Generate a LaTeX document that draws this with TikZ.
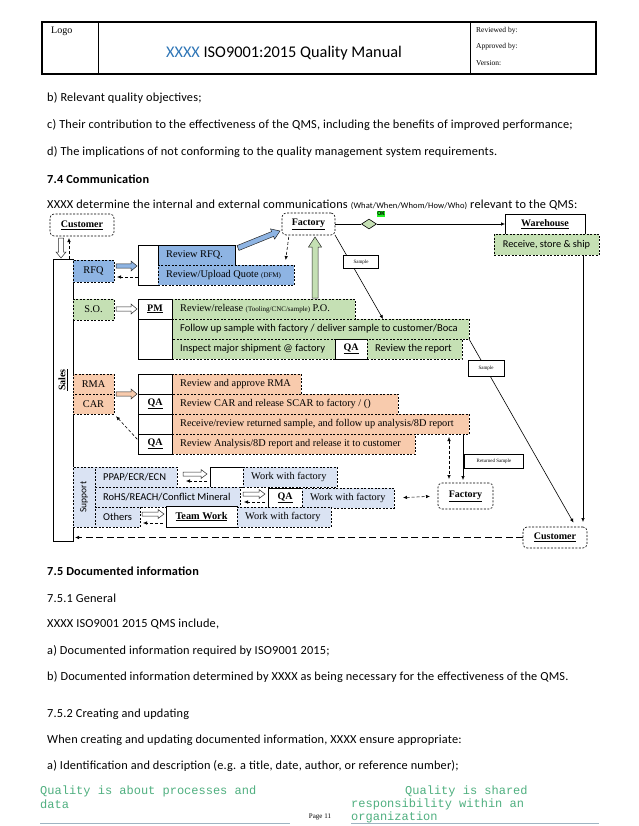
\documentclass[tikz,border=0pt]{standalone}
\usepackage{fontspec}
\setmainfont{Carlito}
\newfontfamily\bodyf[LetterSpace=1.5]{Carlito}
\newfontfamily\tms{Liberation Serif}
\newfontfamily\mono{Liberation Mono}
\usetikzlibrary{shapes.geometric,arrows.meta}
\definecolor{bluef}{HTML}{8EB4E3}
\definecolor{greenf}{HTML}{C5E0B4}
\definecolor{orangef}{HTML}{F8CBAD}
\definecolor{palef}{HTML}{DAE3F3}
\definecolor{xblue}{HTML}{2E75B6}
\definecolor{foot}{HTML}{4FAF7F}
\definecolor{footline}{HTML}{9FB4C2}
\definecolor{okg}{HTML}{22EE22}
\tikzset{
 dbox/.style={draw, line width=0.6pt, dash pattern=on 2pt off 1.5pt, inner sep=0, outer sep=0},
 sbox/.style={draw, line width=0.6pt, fill=white, inner sep=0, outer sep=0},
 rbox/.style={dbox, rounded corners=4pt, fill=white},
 tm/.style={font=\tms\fontsize{10.3}{12}\selectfont},
 cb/.style={font=\fontsize{10.5}{12}\selectfont},
 tip/.style={-{Latex[length=4pt,width=3.5pt]}},
 dtip/.style={{Latex[length=4pt,width=3.5pt]}-{Latex[length=4pt,width=3.5pt]}},
 dline/.style={dash pattern=on 3pt off 2pt, line width=0.6pt},
 sline/.style={line width=0.6pt},
 tinybox/.style={draw, line width=0.5pt, fill=white, inner sep=0, font=\tms\fontsize{5}{6}\selectfont},
 body/.style={anchor=west, inner sep=0, font=\bodyf\fontsize{12.3}{14}\selectfont},
 ftxt/.style={anchor=west, inner sep=0, text=foot, font=\mono\fontsize{12}{13}\selectfont},
}
\newcommand\mybox[7]{\node[#6, minimum width={#4-#2}, minimum height={#5-#3}] (#1) at ({(#2+#4)/2},{(#3+#5)/2}) {#7};}
\newcommand\myboxl[8]{\node[#6, minimum width={#4-#2}, minimum height={#5-#3}] (#1) at ({(#2+#4)/2},{(#3+#5)/2}) {};
 \node[anchor=west, inner sep=0, #7] (#1t) at ({#2+8},{(#3+#5)/2}) {#8};}
% block arrow: name fill x1 y1 x2 y2 shaft-half head-half head-length
\newcommand\blk[9]{%
 \pgfmathsetmacro\bklen{veclen(#5-#3,#6-#4)}%
 \pgfmathsetmacro\bkang{atan2(-(#6-#4),#5-#3)}%
 \begin{scope}[shift={(#3,#4)}, rotate=\bkang]
 \draw[fill=#2, line width=0.5pt, draw=black!85, line join=miter] (0,-#7) -- ({\bklen-#9},-#7) -- ({\bklen-#9},-#8) -- (\bklen,0) -- ({\bklen-#9},#8) -- ({\bklen-#9},#7) -- (0,#7) -- cycle;
 \end{scope}
 \coordinate (#1) at ({(#3+#5)/2},{(#4+#6)/2});}
\begin{document}
\begin{tikzpicture}[x=1pt,y=-1pt]
\useasboundingbox (0,0) rectangle (638,826);
% header
\draw[line width=1.3pt] (42,22) rectangle (596,74);
\draw[line width=0.6pt] (98,22) -- (98,74) (470,22) -- (470,74);
\node[anchor=north west, inner sep=0, font=\tms\fontsize{10}{12}\selectfont] (logo) at (51,27) {Logo};
\node[inner sep=0, font=\fontsize{16.3}{19}\selectfont] (title) at (284,53) {\textcolor{xblue}{XXXX} ISO9001:2015 Quality Manual};
\node[anchor=west, inner sep=0, font=\tms\fontsize{7.5}{9}\selectfont] (rev) at (476,31) {Reviewed by:};
\node[anchor=west, inner sep=0, font=\tms\fontsize{7.5}{9}\selectfont] (appr) at (476,47) {Approved by:};
\node[anchor=west, inner sep=0, font=\tms\fontsize{7.5}{9}\selectfont] (ver) at (476,63) {Version:};
% body top
\node[body] (t1) at (47,98) {b) Relevant quality objectives;};
\node[body] (t2) at (47,125) {c) Their contribution to the effectiveness of the QMS, including the benefits of improved performance;};
\node[body] (t3) at (47,152) {d) The implications of not conforming to the quality management system requirements.};
\node[body] (t4) at (47,179) {\textbf{7.4 Communication}};
\node[body] (t5) at (47,205) {XXXX determine the internal and external communications {\fontsize{8.5}{9}\selectfont (What/When/Whom/How/Who)} relevant to the QMS:};
% ---------- diagram ----------
\mybox{cust1}{50}{214}{114}{236}{rbox}{\tms\bfseries\fontsize{10}{12}\selectfont\underline{Customer}}
\mybox{factory1}{282}{213}{335}{235}{rbox}{\tms\bfseries\fontsize{10}{12}\selectfont\underline{Factory}}
\mybox{warehouse}{505}{214}{585}{234}{sbox}{\tms\bfseries\fontsize{10}{12}\selectfont\underline{Warehouse}}
\mybox{receive}{494}{234}{599}{255}{dbox, fill=greenf}{\fontsize{10.3}{12}\selectfont Receive, store \& ship}
\mybox{sales}{53}{259}{73}{541}{sbox}{}
\node[rotate=90, inner sep=0, font=\tms\bfseries\fontsize{10}{12}\selectfont] (salest) at (63,380) {\underline{Sales}};
% RFQ row
\mybox{rfq}{73}{260}{114}{282}{dbox, fill=bluef}{\tms\fontsize{10.3}{12}\selectfont RFQ}
\mybox{blank1}{138}{245}{158}{285}{sbox}{}
\myboxl{reviewrfq}{158}{245}{235}{265}{sbox, fill=bluef}{tm}{Review RFQ.}
\myboxl{reviewq}{158}{265}{294}{285}{dbox, fill=bluef}{tm}{Review/Upload Quote {\fontsize{7}{8}\selectfont(DFM)}}
% PM rows
\mybox{so}{73}{299}{114}{320}{dbox, fill=greenf}{\tms\fontsize{10.3}{12}\selectfont S.O.}
\myboxl{rel}{172}{299}{355}{319}{dbox, fill=greenf}{tm}{Review/release {\fontsize{7}{8}\selectfont(Tooling/CNC/sample)} P.O.}
\myboxl{follow}{172}{319}{469}{339}{dbox, fill=greenf}{cb}{Follow up sample with factory / deliver sample to customer/Boca}
\myboxl{inspect}{172}{339}{335}{359}{dbox, fill=greenf}{cb}{Inspect major shipment @ factory}
\mybox{qa1}{335}{339}{367}{359}{sbox}{\tms\bfseries\fontsize{10}{12}\selectfont\underline{QA}}
\myboxl{report}{367}{339}{462}{359}{dbox, fill=greenf}{cb}{Review the report}
\mybox{pmcol}{138}{299}{172}{359}{sbox}{}
\draw[sline] (pmcol.west |- 0,319) -- (pmcol.east |- 0,319);
\node[inner sep=0, font=\tms\bfseries\fontsize{10}{12}\selectfont] (pm) at (155,309) {\underline{PM}};
% RMA rows
\mybox{rma}{73}{374}{114}{394}{dbox, fill=orangef}{\tms\fontsize{10.3}{12}\selectfont RMA}
\mybox{car}{73}{394}{114}{414}{dbox, fill=orangef}{\tms\fontsize{10.3}{12}\selectfont CAR}
\myboxl{approve}{172}{374}{301}{394}{dbox, fill=orangef}{tm}{Review and approve RMA}
\myboxl{carr}{172}{394}{398}{414}{dbox, fill=orangef}{tm}{Review CAR and release SCAR to factory / ()}
\myboxl{recv}{172}{414}{469}{434}{dbox, fill=orangef}{tm}{Receive/review returned sample, and follow up analysis/8D report}
\myboxl{anal}{172}{434}{415}{454}{dbox, fill=orangef}{tm}{Review Analysis/8D report and release it to customer}
\mybox{qacol}{138}{374}{172}{454}{sbox}{}
\draw[sline] (qacol.west |- 0,394) -- (qacol.east |- 0,394) (qacol.west |- 0,414) -- (qacol.east |- 0,414) (qacol.west |- 0,434) -- (qacol.east |- 0,434);
\node[inner sep=0, font=\tms\bfseries\fontsize{10}{12}\selectfont] (qa2t) at (155,404) {\underline{QA}};
\node[inner sep=0, font=\tms\bfseries\fontsize{10}{12}\selectfont] (qa3t) at (155,444) {\underline{QA}};
% support rows
\mybox{support}{73}{467}{95}{527}{dbox, fill=palef}{}
\node[rotate=90, inner sep=0, font=\fontsize{9.5}{11}\selectfont] (supportt) at (84,497) {Support};
\myboxl{ppap}{95}{467}{177}{487}{dbox, fill=palef}{cb}{PPAP/ECR/ECN}
\mybox{blank2}{210}{467}{243}{487}{sbox}{}
\myboxl{wwf1}{243}{467}{337}{487}{dbox, fill=palef}{tm}{Work with factory}
\myboxl{rohs}{95}{487}{240}{507}{dbox, fill=palef}{cb}{RoHS/REACH/Conflict Mineral}
\mybox{qa4}{268}{488}{302}{508}{sbox}{\tms\bfseries\fontsize{10}{12}\selectfont\underline{QA}}
\myboxl{wwf2}{302}{488}{394}{508}{dbox, fill=palef}{tm}{Work with factory}
\myboxl{others}{95}{507}{140}{527}{dbox, fill=palef}{cb}{Others}
\mybox{team}{166}{506}{237}{527}{sbox}{\tms\bfseries\fontsize{10.3}{12}\selectfont\underline{Team Work}}
\myboxl{wwf3}{237}{507}{331}{527}{dbox, fill=palef}{tm}{Work with factory}
% factory 2 and customer 2
\mybox{factory2}{438}{483}{493}{509}{rbox}{\tms\bfseries\fontsize{10}{12}\selectfont\underline{Factory}}
\mybox{cust2}{523}{527}{587}{548}{rbox}{\tms\bfseries\fontsize{10}{12}\selectfont\underline{Customer}}
% ---------- connectors ----------
\blk{csarrow}{white}{61}{238}{61}{258}{2.5}{5}{6}
\draw[dline, tip, shorten >=2pt] (sales.north -| 69,0) -- (cust1.south -| 69,0);
\blk{rfqarrow}{bluef}{116}{266}{137}{266}{2.2}{5}{6}
\draw[dline, tip, shorten >=3pt] (blank1.west |- 0,277) -- (rfq.east |- 0,277);
\blk{diagarrow}{bluef}{238}{248}{280}{231}{2.6}{5.5}{8}
\draw[dline, tip, shorten <=2pt, shorten >=5pt] (factory1.south -| 289,0) -- (reviewq.north -| 285,0);
\node[diamond, draw, fill=greenf, line width=0.6pt, minimum width=15pt, minimum height=10pt, inner sep=0] (dia) at (369,224) {};
\draw[sline] (factory1.east) -- (dia.west);
\draw[sline, tip] (dia.east) -- (warehouse.west |- dia.east);
\node[fill=okg, inner sep=0.7pt, font=\bfseries\fontsize{6}{7}\selectfont] (ok) at (381,214) {OK};
\blk{greenarrow}{greenf}{315}{298}{315}{237}{3}{6.5}{10}
\draw[sline, tip] (factory1.south east) -- (follow.north -| 383,0);
\node[tinybox, minimum width=35pt, minimum height=13pt] (sample1) at (361,262) {Sample};
\draw[sline, tip, shorten >=5pt] (follow.south east) -- (cust2.north -| 576,0);
\node[tinybox, minimum width=36pt, minimum height=16pt] (sample2) at (486,368) {Sample};
\draw[sline, tip, shorten >=5pt] (receive.south -| 583,0) -- (cust2.north -| 583,0);
\blk{soarrow}{white}{116}{309}{137}{309}{2.2}{5}{6}
\blk{rmaarrow}{orangef}{116}{394}{137}{394}{2.2}{5}{6}
\draw[dline, tip, shorten <=1pt, shorten >=3pt] (qacol.west |- 0,440) -- (car.south east);
\draw[dline, dtip, shorten <=3pt, shorten >=4pt] (recv.south -| 449,0) -- (factory2.north -| 449,0);
\draw[sline, tip, shorten >=3pt] (recv.south -| 463,0) -- (factory2.north -| 463,0);
\node[tinybox, minimum width=59pt, minimum height=14pt] (retsample) at (494,461) {Returned Sample};
\draw[dline, dtip, shorten <=9pt, shorten >=8pt] (wwf2.east) -- (factory2.west);
\blk{p1arrow}{white}{183}{474}{207}{474}{2}{4.5}{6}
\draw[dline, tip, shorten <=3pt, shorten >=9pt] (blank2.west |- 0,481) -- (ppap.east |- 0,481);
\blk{p2arrow}{white}{243}{494}{265}{494}{2}{4.5}{6}
\draw[dline, tip, shorten <=3pt, shorten >=4pt] (qa4.west |- 0,502) -- (rohs.east |- 0,502);
\blk{p3arrow}{white}{142}{514}{164}{514}{2}{4.5}{6}
\draw[dline, tip, shorten <=3pt, shorten >=3pt] (team.west |- 0,523) -- (others.east |- 0,523);
\draw[dash pattern=on 7pt off 3.5pt, line width=0.7pt, tip, shorten >=2pt] (cust2.west) -- (sales.east |- cust2.west);
% ---------- body bottom ----------
\node[body] (t6) at (47,571) {\textbf{7.5 Documented information}};
\node[body] (t7) at (47,598) {7.5.1 General};
\node[body] (t8) at (47,624) {XXXX ISO9001 2015 QMS include,};
\node[body] (t9) at (47,651) {a) Documented information required by ISO9001 2015;};
\node[body] (t10) at (47,677) {b) Documented information determined by XXXX as being necessary for the effectiveness of the QMS.};
\node[body] (t11) at (47,714) {7.5.2 Creating and updating};
\node[body] (t12) at (47,740) {When creating and updating documented information, XXXX ensure appropriate:};
\node[body] (t13) at (47,766) {a) Identification and description (e.g. a title, date, author, or reference number);};
% footer
\node[ftxt] (f1) at (40,791) {Quality is about processes and};
\node[ftxt] (f2) at (40,804) {data};
\node[ftxt] (f3) at (405,791) {Quality is shared};
\node[ftxt] (f4) at (351,804) {responsibility within an};
\node[ftxt] (f5) at (351,817) {organization};
\draw[footline, line width=0.8pt] (40,823) -- (290,823) (351,823) -- (599,823);
\node[inner sep=0, font=\tms\fontsize{7}{8}\selectfont] (page) at (320,817) {Page 11};
\end{tikzpicture}
\end{document}
